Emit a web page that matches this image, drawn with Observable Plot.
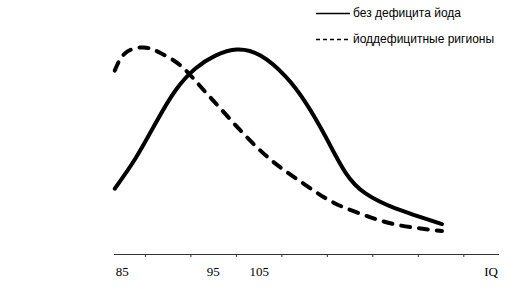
<!DOCTYPE html>
<html>
<head>
<meta charset="utf-8">
<script src="https://cdn.jsdelivr.net/npm/d3@7"></script>
<script src="https://cdn.jsdelivr.net/npm/@observablehq/plot@0.6"></script>
<style>
  body { margin: 0; background: #fff; }
  #wrap { position: relative; width: 508px; height: 288px; }
  #legend { position: absolute; left: 316px; top: 0; font-family: "Liberation Sans", Arial, sans-serif; font-size: 12px; color: #000; }
  .row { position: absolute; left: 0; display: flex; align-items: center; white-space: nowrap; }
  .row svg { display: block; margin-right: 2px; }
</style>
</head>
<body>
<div id="wrap"></div>
<script>
// IQ positions (x) and relative frequency (y)
const seriesNames = ["без дефицита йода", "йоддефицитные ригионы"];
const normalIQ   = [83.25, 87.8, 92.2, 96.6, 101.0, 105.39, 110.12, 115.29, 120.79, 125.19, 129.59, 133.99, 138.39, 144.98, 155.21];
const normalFreq = [28.1, 41.0, 56.0, 70.1, 79.5, 85.0, 87.6, 85.0, 76.1, 65.0, 50.4, 35.0, 26.1, 19.7, 13.0];
const deficitIQ   = [83.25, 85.6, 89.63, 93.3, 97.7, 102.1, 106.49, 110.89, 115.29, 119.69, 124.75, 129.15, 133.55, 139.48, 146.08, 155.21];
const deficitFreq = [78.6, 86.1, 88.5, 86.1, 80.8, 71.8, 62.4, 53.0, 44.4, 37.2, 30.3, 24.6, 20.2, 15.9, 12.4, 10.0];

const tickValues   = [90, 100, 110, 120, 130, 140, 150, 160];
const tickLabels   = ["85", "95", "105", "IQ"];
const tickLabelPos = [84.9, 104.9, 115.0, 166.0];

const normal  = normalIQ.map((x, i) => ({x, y: normalFreq[i]}));
const deficit = deficitIQ.map((x, i) => ({x, y: deficitFreq[i]}));
const labels  = tickLabels.map((t, i) => ({t, x: tickLabelPos[i]}));

const chart = Plot.plot({
  width: 508,
  height: 288,
  marginLeft: 114,
  marginRight: 9,
  marginTop: 20,
  marginBottom: 34,
  x: {domain: [83.2, 167.85], axis: null},
  y: {domain: [0, 100], axis: null},
  style: {background: "#fff"},
  marks: [
    Plot.ruleY([0], {stroke: "#333", strokeWidth: 1}),
    Plot.axisX({ticks: tickValues, tickSize: 3, tickFormat: () => "", stroke: "#333", label: null}),
    Plot.text(labels, {
      x: "x", text: "t", frameAnchor: "bottom", dy: 21,
      fontFamily: "'Liberation Serif', 'Times New Roman', serif", fontSize: 13,
      fontWeight: d => d.t === "IQ" ? "bold" : "normal", fill: "#000"
    }),
    Plot.line(deficit, {x: "x", y: "y", curve: "natural", stroke: "#000", strokeWidth: 4,
      strokeDasharray: "9,9", strokeLinecap: "round"}),
    Plot.line(normal, {x: "x", y: "y", curve: "natural", stroke: "#000", strokeWidth: 4})
  ]
});

const wrap = document.getElementById("wrap");
wrap.appendChild(chart);

const legend = document.createElement("div");
legend.id = "legend";
const rows = [
  {name: seriesNames[0], dash: null, top: 5},
  {name: seriesNames[1], dash: "4,3", top: 31}
];
for (const r of rows) {
  const row = document.createElement("div");
  row.className = "row";
  row.style.top = r.top + "px";
  row.style.height = "16px";
  const svg = d3.create("svg").attr("width", 35).attr("height", 16);
  svg.append("line").attr("x1", 0).attr("x2", 34).attr("y1", 8.5).attr("y2", 8.5)
    .attr("stroke", "#000").attr("stroke-width", 1.6)
    .attr("stroke-dasharray", r.dash);
  row.appendChild(svg.node());
  const span = document.createElement("span");
  span.textContent = r.name;
  row.appendChild(span);
  legend.appendChild(row);
}
wrap.appendChild(legend);
</script>
</body>
</html>
